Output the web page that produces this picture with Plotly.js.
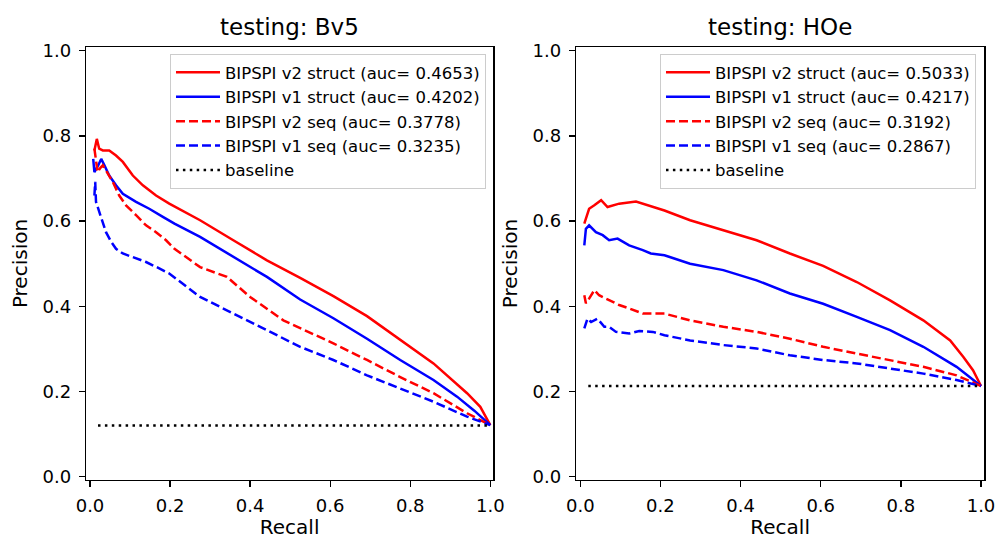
<!DOCTYPE html>
<html><head><meta charset="utf-8">
<script src="https://cdn.plot.ly/plotly-3.0.1.min.js"></script>
<style>html,body{margin:0;padding:0;background:#fff}#chart{width:998px;height:539px}</style>
</head><body><div id="chart"></div>
<script>
// ---------- data ----------
const subplotTitles = ["testing: Bv5", "testing: HOe"];
const xLabel = "Recall";
const yLabel = "Precision";
const tickVals = [0, 0.2, 0.4, 0.6, 0.8, 1.0];

const namesBv5 = ["BIPSPI v2 struct (auc= 0.4653)", "BIPSPI v1 struct (auc= 0.4202)",
                  "BIPSPI v2 seq (auc= 0.3778)", "BIPSPI v1 seq (auc= 0.3235)", "baseline"];
const namesHOe = ["BIPSPI v2 struct (auc= 0.5033)", "BIPSPI v1 struct (auc= 0.4217)",
                  "BIPSPI v2 seq (auc= 0.3192)", "BIPSPI v1 seq (auc= 0.2867)", "baseline"];

// Bv5
const bv5V2StructR = [0.011,0.017,0.023,0.032,0.048,0.065,0.082,0.107,0.132,0.165,0.198,0.275,0.358,0.442,0.525,0.608,0.692,0.775,0.858,0.942,0.975,1.0];
const bv5V2StructP = [0.766,0.793,0.770,0.766,0.766,0.754,0.739,0.707,0.684,0.660,0.641,0.602,0.555,0.508,0.467,0.424,0.377,0.322,0.266,0.196,0.164,0.121];
const bv5V1StructR = [0.008,0.011,0.020,0.028,0.036,0.048,0.065,0.082,0.115,0.148,0.182,0.211,0.275,0.358,0.442,0.525,0.608,0.692,0.775,0.858,0.917,0.960,1.0];
const bv5V1StructP = [0.746,0.715,0.730,0.746,0.731,0.707,0.684,0.664,0.645,0.629,0.610,0.594,0.563,0.516,0.469,0.416,0.372,0.324,0.274,0.227,0.188,0.155,0.121];
const bv5V2SeqR = [0.011,0.015,0.019,0.026,0.032,0.040,0.057,0.073,0.090,0.115,0.140,0.165,0.190,0.211,0.275,0.342,0.400,0.483,0.608,0.692,0.775,0.858,0.942,1.0];
const bv5V2SeqP = [0.770,0.740,0.715,0.725,0.731,0.719,0.692,0.660,0.637,0.614,0.590,0.574,0.555,0.535,0.492,0.469,0.422,0.367,0.313,0.274,0.234,0.196,0.149,0.121];
const bv5V1SeqR = [0.011,0.013,0.015,0.023,0.032,0.040,0.053,0.065,0.082,0.107,0.140,0.173,0.198,0.275,0.358,0.442,0.525,0.608,0.692,0.775,0.858,0.942,1.0];
const bv5V1SeqP = [0.660,0.692,0.645,0.621,0.598,0.574,0.551,0.535,0.524,0.516,0.504,0.489,0.477,0.422,0.383,0.344,0.305,0.274,0.238,0.207,0.176,0.141,0.121];
const bv5BaseR = [0.02, 1.0];
const bv5BaseP = [0.12, 0.12];

// HOe
const hoeV2StructR = [0.010,0.014,0.022,0.035,0.052,0.068,0.097,0.139,0.172,0.210,0.274,0.357,0.440,0.523,0.606,0.690,0.773,0.856,0.923,0.956,0.980,1.0];
const hoeV2StructP = [0.594,0.606,0.629,0.637,0.649,0.633,0.641,0.646,0.637,0.625,0.602,0.578,0.555,0.524,0.495,0.457,0.414,0.367,0.320,0.281,0.250,0.213];
const hoeV1StructR = [0.010,0.014,0.022,0.039,0.056,0.072,0.093,0.122,0.156,0.176,0.210,0.274,0.357,0.440,0.523,0.606,0.690,0.773,0.856,0.939,1.0];
const hoeV1StructP = [0.543,0.582,0.590,0.574,0.567,0.555,0.559,0.543,0.532,0.524,0.520,0.500,0.485,0.461,0.430,0.406,0.375,0.344,0.305,0.258,0.213];
const hoeV2SeqR = [0.010,0.014,0.022,0.035,0.047,0.072,0.097,0.122,0.156,0.210,0.274,0.357,0.440,0.523,0.606,0.690,0.773,0.856,0.939,1.0];
const hoeV2SeqP = [0.426,0.407,0.418,0.438,0.426,0.414,0.403,0.395,0.383,0.383,0.367,0.352,0.340,0.324,0.305,0.289,0.274,0.258,0.238,0.213];
const hoeV1SeqR = [0.010,0.018,0.027,0.043,0.060,0.072,0.089,0.122,0.147,0.181,0.210,0.274,0.357,0.440,0.523,0.606,0.690,0.773,0.856,0.939,1.0];
const hoeV1SeqP = [0.348,0.371,0.363,0.371,0.352,0.352,0.340,0.336,0.342,0.340,0.332,0.320,0.309,0.301,0.285,0.274,0.266,0.254,0.242,0.227,0.213];
const hoeBaseR = [0.02, 1.0];
const hoeBaseP = [0.213, 0.213];

// ---------- styles ----------
const RED = "#ff0000", BLUE = "#0000ff", BLACK = "#000000";
const LW = 2.5;
const DASH = "9px,4px";
const DOT = "2.5px,4.4px";
const FONT = "DejaVu Sans, Liberation Sans, sans-serif";

function mk(x, y, name, color, dash, xa, ya, leg) {
  return {x: x, y: y, name: name, type: "scatter", mode: "lines",
          line: {color: color, width: LW, dash: dash},
          xaxis: xa, yaxis: ya, legend: leg};
}

const traces = [
  mk(bv5V2StructR, bv5V2StructP, namesBv5[0], RED, "solid", "x", "y", "legend"),
  mk(bv5V1StructR, bv5V1StructP, namesBv5[1], BLUE, "solid", "x", "y", "legend"),
  mk(bv5V2SeqR, bv5V2SeqP, namesBv5[2], RED, DASH, "x", "y", "legend"),
  mk(bv5V1SeqR, bv5V1SeqP, namesBv5[3], BLUE, DASH, "x", "y", "legend"),
  mk(bv5BaseR, bv5BaseP, namesBv5[4], BLACK, DOT, "x", "y", "legend"),
  mk(hoeV2StructR, hoeV2StructP, namesHOe[0], RED, "solid", "x2", "y2", "legend2"),
  mk(hoeV1StructR, hoeV1StructP, namesHOe[1], BLUE, "solid", "x2", "y2", "legend2"),
  mk(hoeV2SeqR, hoeV2SeqP, namesHOe[2], RED, DASH, "x2", "y2", "legend2"),
  mk(hoeV1SeqR, hoeV1SeqP, namesHOe[3], BLUE, DASH, "x2", "y2", "legend2"),
  mk(hoeBaseR, hoeBaseP, namesHOe[4], BLACK, DOT, "x2", "y2", "legend2")
];

const tickFont = {family: FONT, size: 18, color: "#000"};
const labFont = {family: FONT, size: 20, color: "#000"};

function xax(domain, range, anchor) {
  return {domain: domain, range: range, anchor: anchor, showgrid: false, zeroline: false,
          showline: true, linecolor: "#000", linewidth: 1.3, mirror: true,
          ticks: "outside", ticklen: 6, tickwidth: 1.3, tickcolor: "#000",
          tickvals: tickVals, tickformat: ".1f", tickfont: tickFont, ticklabelstandoff: 3,
          title: {text: xLabel, font: labFont, standoff: 5}, automargin: false, fixedrange: true};
}
function yax(domain, range, anchor) {
  return {domain: domain, range: range, anchor: anchor, showgrid: false, zeroline: false,
          showline: true, linecolor: "#000", linewidth: 1.3, mirror: true,
          ticks: "outside", ticklen: 6, tickwidth: 1.3, tickcolor: "#000",
          tickvals: tickVals, tickformat: ".1f", tickfont: tickFont, ticklabelstandoff: 4,
          title: {text: yLabel, font: labFont, standoff: 9}, automargin: false, fixedrange: true};
}

const yDom = [59/539, 492/539];
const yRange = [-0.0077, 1.0087];

function legendCfg(xRight) {
  return {x: xRight, xanchor: "right", y: (539-54)/539, yanchor: "top",
          xref: "paper", yref: "paper",
          bgcolor: "rgba(255,255,255,0.8)", bordercolor: "#cccccc", borderwidth: 1,
          font: {family: FONT, size: 16.5, color: "#000"}, itemwidth: 44,
          tracegroupgap: 0};
}

const layout = {
  width: 998, height: 539,
  margin: {l: 0, r: 0, t: 0, b: 0},
  paper_bgcolor: "#fff", plot_bgcolor: "#fff",
  showlegend: true,
  xaxis: xax([86/998, 493.3/998], [-0.01, 1.0075], "y"),
  yaxis: yax(yDom, yRange, "x"),
  xaxis2: xax([576/998, 984.3/998], [-0.0107, 1.0082], "y2"),
  yaxis2: yax(yDom, yRange, "x2"),
  legend: legendCfg(486/998),
  legend2: legendCfg(976/998),
  annotations: [
    {text: subplotTitles[0], x: 289.7/998, y: (539-42)/539, xref: "paper", yref: "paper",
     xanchor: "center", yanchor: "bottom", showarrow: false,
     font: {family: FONT, size: 23, color: "#000"}},
    {text: subplotTitles[1], x: 780.2/998, y: (539-42)/539, xref: "paper", yref: "paper",
     xanchor: "center", yanchor: "bottom", showarrow: false,
     font: {family: FONT, size: 23, color: "#000"}}
  ]
};

Plotly.newPlot("chart", traces, layout, {displayModeBar: false, staticPlot: true});
</script>
</body></html>
